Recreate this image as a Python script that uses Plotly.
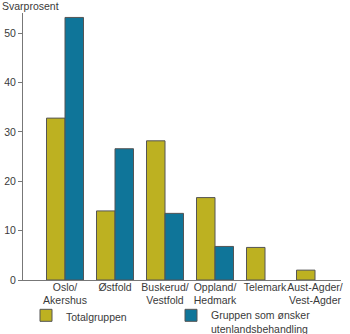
import plotly.graph_objects as go

categories = ["Oslo/<br>Akershus", "Østfold", "Buskerud/<br>Vestfold", "Oppland/<br>Hedmark", "Telemark", "Aust-Agder/<br>Vest-Agder"]
total_group = [32.8, 14.0, 28.2, 16.7, 6.6, 2.0]
abroad_group = [53.2, 26.6, 13.5, 6.8, None, None]
series_names = ["Totalgruppen", "Gruppen som ønsker<br>utenlandsbehandling"]
y_ticks = [0, 10, 20, 30, 40, 50]

YELLOW = "#BDB121"
BLUE = "#0F7599"
TEXT = "#3a3a3a"
FONT = "Liberation Sans"
FS = 10.5

fig = go.Figure()
fig.add_trace(go.Bar(x=categories, y=total_group, name=series_names[0],
                     marker=dict(color=YELLOW, line=dict(color="#555555", width=1))))
fig.add_trace(go.Bar(x=categories, y=abroad_group, name=series_names[1],
                     marker=dict(color=BLUE, line=dict(color="#555555", width=1))))

fig.update_layout(
    width=350, height=334,
    margin=dict(l=23, r=9, t=13, b=54, autoexpand=False),
    paper_bgcolor="white", plot_bgcolor="white",
    barmode="group", bargap=0.26, bargroupgap=0,
    font=dict(family=FONT, size=FS, color=TEXT),
    showlegend=True,
    legend=dict(orientation="h", xref="container", yref="container",
                x=26 / 350, xanchor="left", y=1 - 302 / 334, yanchor="top",
                valign="top", font=dict(size=FS, color=TEXT), itemwidth=30,
                tracegroupgap=0, bgcolor="rgba(0,0,0,0)", entrywidth=100),
    xaxis=dict(range=[-0.84, 5.52], showline=True, linecolor="#777777", linewidth=1,
               ticks="", tickangle=0, automargin=False, ticklabelstandoff=-3,
               tickfont=dict(size=FS, color=TEXT), showgrid=False, zeroline=False),
    yaxis=dict(range=[0, 54.1], tickvals=y_ticks, showline=True, linecolor="#777777", linewidth=1,
               ticks="outside", ticklen=4, tickcolor="#777777", automargin=False,
               tickfont=dict(size=FS, color=TEXT), showgrid=False, zeroline=False),
    annotations=[dict(text="Svarprosent", xref="paper", yref="paper", x=0, y=1,
                      xshift=-23, yshift=-1, xanchor="left", yanchor="bottom", showarrow=False,
                      font=dict(size=FS, color=TEXT))],
)

fig.write_html("out.html")
